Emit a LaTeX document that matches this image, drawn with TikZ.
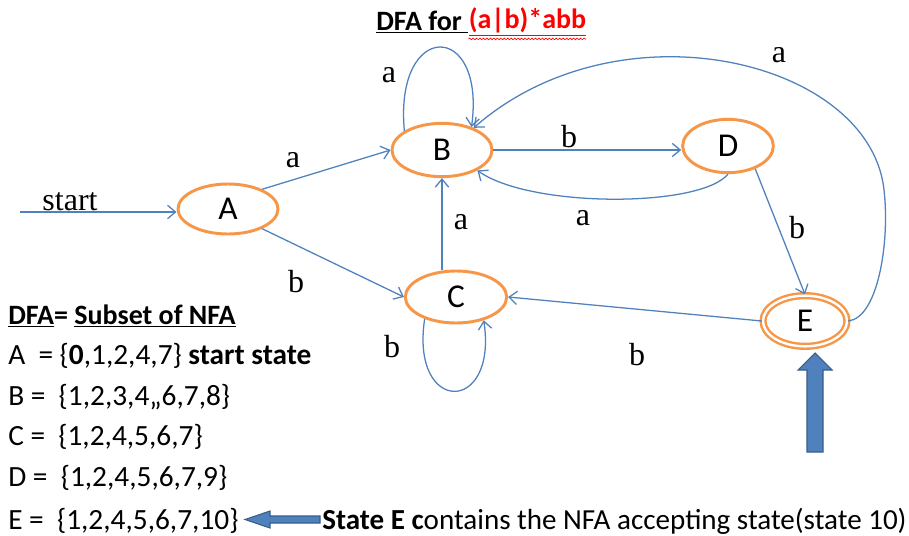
\documentclass[tikz,border=0pt]{standalone}
\usepackage{fontspec}
\setmainfont{Carlito}
\newfontfamily\labelserif{Liberation Serif}
\usetikzlibrary{arrows.meta,shapes.geometric,decorations.pathmorphing}
\definecolor{edgeblue}{HTML}{4F81BD}
\definecolor{stateorange}{HTML}{F79646}
\definecolor{blockedge}{HTML}{385D8A}
\definecolor{titlered}{HTML}{FF0000}
\begin{document}
\begin{tikzpicture}[x=0.75pt,y=-0.75pt,
  state/.style={ellipse, draw=stateorange, line width=2.2pt, inner sep=0pt,
    font=\fontsize{25}{29}\selectfont},
  trans/.style={draw=edgeblue, line width=0.95pt,
    -{Straight Barb[length=6pt,width=10pt]}},
  lbl/.style={font=\labelserif\fontsize{24}{28}\selectfont, inner sep=0pt},
  listline/.style={anchor=west, inner sep=0pt, font=\fontsize{22}{26}\selectfont},
  blockarrow/.style={fill=edgeblue, draw=blockedge, line width=0.8pt}
]
\fill[white] (0,0) rectangle (909,535);
\useasboundingbox (0,0) rectangle (909,535);

% title
\node[anchor=west, inner sep=0pt, font=\bfseries\fontsize{21}{25}\selectfont]
  (t1) at (376,22) {\underline{DFA for\ }};
\node[anchor=west, inner sep=0pt, font=\bfseries\fontsize{21}{25}\selectfont,
  text=titlered] (t2) at (t1.east) {\underline{(a|b)*abb}};
\draw[titlered, line width=0.5pt, decorate,
  decoration={snake, amplitude=0.6pt, segment length=2.6pt}]
  ([yshift=-2pt]t2.south west) -- ([yshift=-2pt]t2.south east);

% states
\node[state, minimum width=75pt, minimum height=37.5pt] (A) at (228,209) {A};
\node[state, minimum width=75pt, minimum height=40pt] (B) at (442,150) {B};
\node[state, minimum width=76pt, minimum height=39pt] (C) at (456,297) {C};
\node[state, minimum width=68pt, minimum height=40pt] (D) at (728,146) {D};
\node[state, line width=1.8pt, double=white, double distance=1.8pt,
  minimum width=63pt, minimum height=38pt] (E) at (805,321) {E};

% transitions
\coordinate (s0) at (20,212);
\draw[trans] (s0) -- (A.west |- s0);
\node[lbl] (lstart) at (70,202) {start};

\draw[trans] (A.30) -- (B.west);
\node[lbl] (l1) at (293,160) {a};
\draw[trans] (A.-30) -- (C.west);
\node[lbl] (l2) at (296,282) {b};

\draw[trans] (B.153) .. controls (394,20) and (486,20) .. (B.38);
\node[lbl] (l3) at (389,75) {a};

\draw[trans] (B.east) -- (D.west |- B.east);
\node[lbl] (l4) at (569,137) {b};

\draw[trans] (D.south) .. controls (700,208) and (530,208) .. (B.-30);
\node[lbl] (l5) at (583,218) {a};

\draw[trans] (B.south |- C.north) -- (B.south);
\node[lbl] (l6) at (461,222) {a};

\draw[trans] (D.-40) -- (E.north);
\node[lbl] (l7) at (797,228) {b};

\draw[trans] (E.west) -- (C.east);
\node[lbl] (l8) at (637,355) {b};

\draw[trans] (C.-145) .. controls (410,415) and (498,415) .. (C.-40);
\node[lbl] (l9) at (392,347) {b};

\draw[trans] (E.east) .. controls (878,318) and (890,242) .. (884,190)
  .. controls (870,60) and (620,0) .. (B.35);
\node[lbl] (l10) at (779,55) {a};

% subset listing
\node[listline, font=\bfseries\fontsize{21}{25}\selectfont] (h) at (8,316)
  {\underline{DFA}= \underline{Subset of NFA}};
\node[listline] (rA) at (8,356) {A\ \ = \{\textbf{0},1,2,4,7\} \textbf{start state}};
\node[listline] (rB) at (8,397) {B = \ \{1,2,3,4,,6,7,8\}};
\node[listline] (rC) at (8,437) {C = \ \{1,2,4,5,6,7\}};
\node[listline] (rD) at (8,478) {D = \ \{1,2,4,5,6,7,9\}};
\node[listline] (rE) at (8,521) {E = \ \{1,2,4,5,6,7,10\}};
\node[listline, font=\fontsize{21.8}{25}\selectfont] (note) at (322,521)
  {\textbf{State E c}ontains the NFA accepting state(state 10)};

% block arrows
\draw[blockarrow] (320,516) -- (270,516) -- (270,511) -- (245,519.5)
  -- (270,528) -- (270,523) -- (320,523) -- cycle;
\draw[blockarrow] (807,452) -- (823,452) -- (823,370) -- (832,370)
  -- (815,353) -- (798,370) -- (807,370) -- cycle;
\end{tikzpicture}
\end{document}
